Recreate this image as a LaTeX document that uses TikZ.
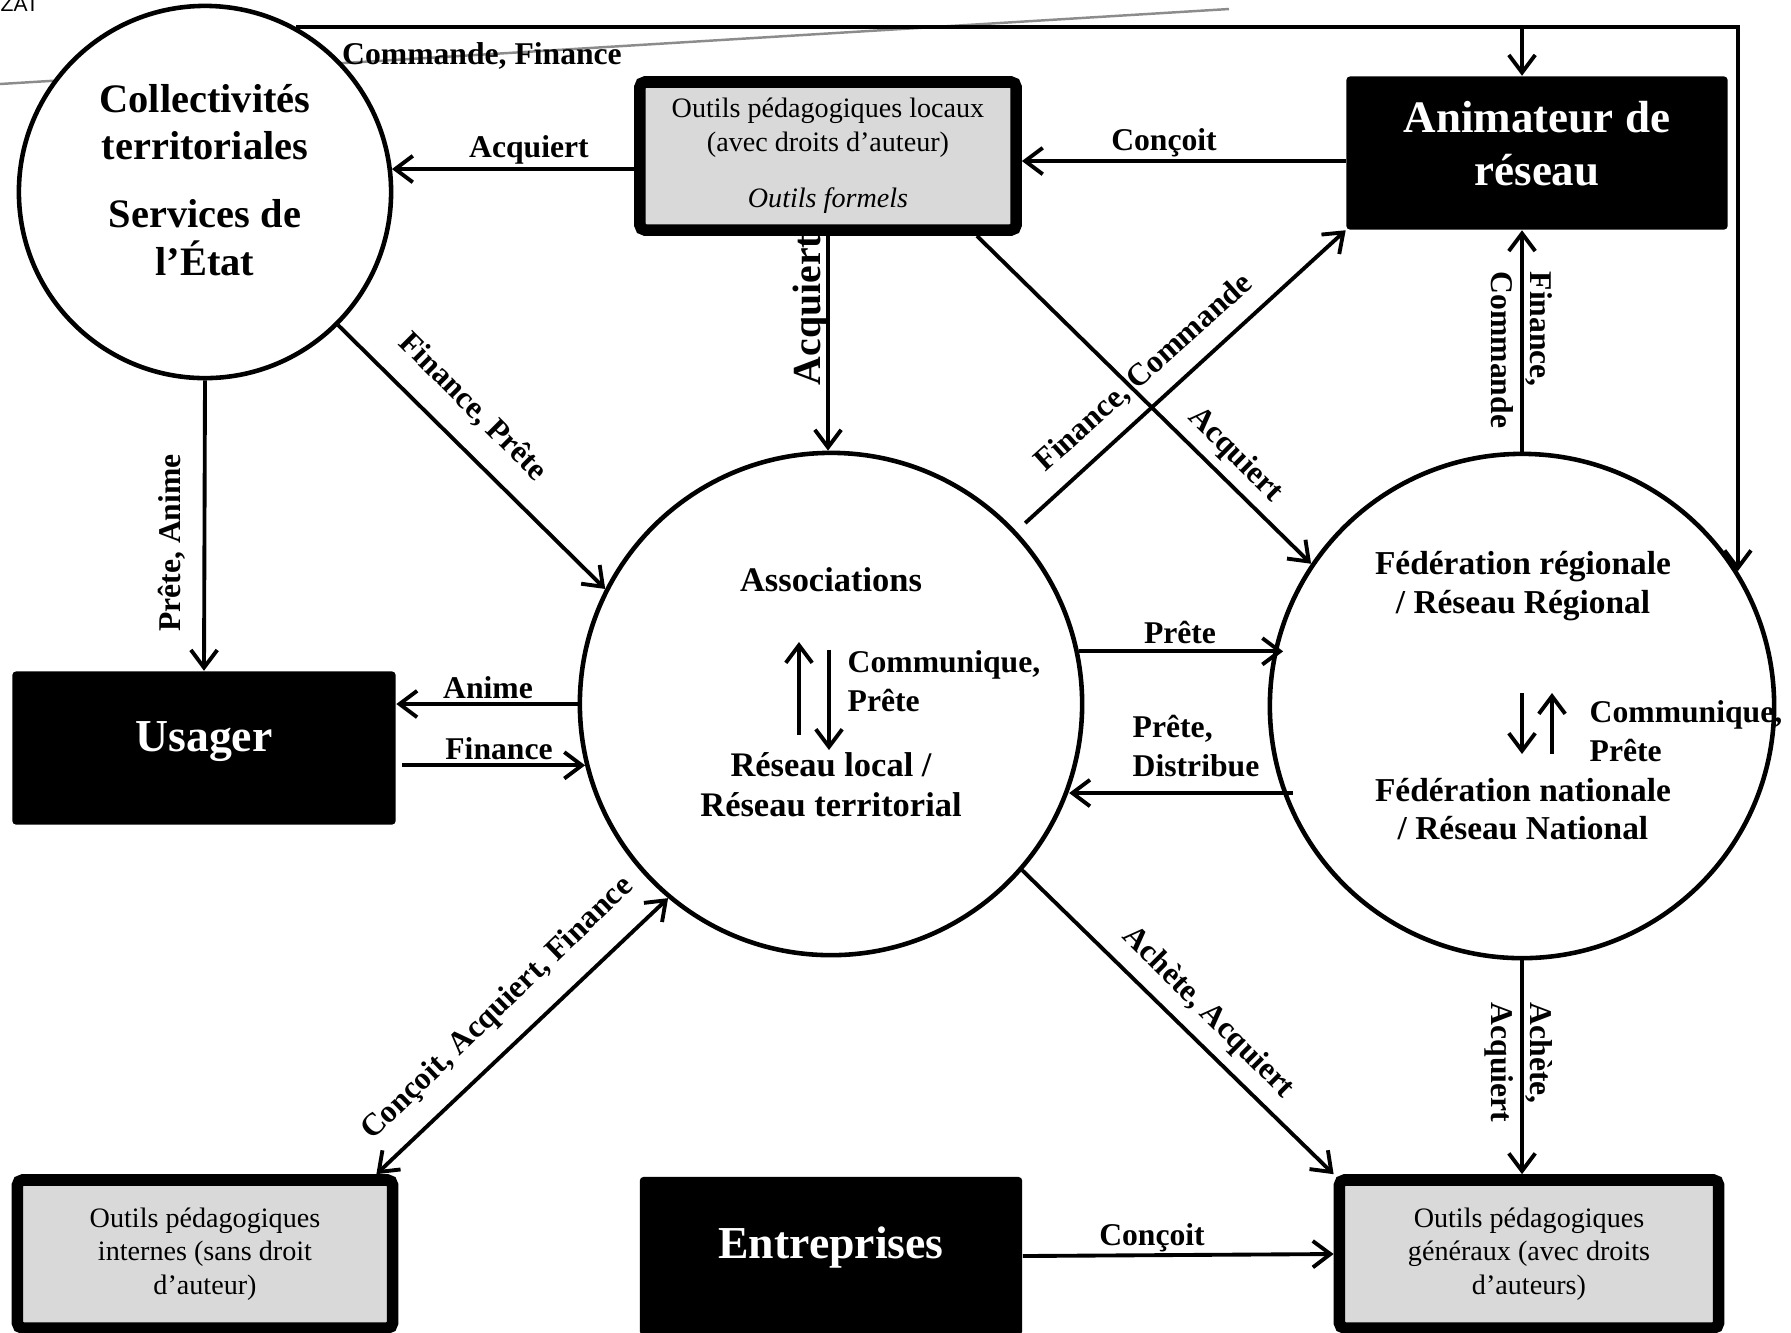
\documentclass[tikz,border=0pt]{standalone}
\usepackage{fontspec}
\setmainfont{Liberation Serif}
\setsansfont{Liberation Sans}
\usetikzlibrary{arrows.meta,calc}

\begin{document}
\begin{tikzpicture}[x=0.01cm,y=-0.01cm,
    actor/.style={draw,circle,line width=1.3pt,fill=white,inner sep=0pt},
    blackbox/.style={fill=black,rounded corners=1pt,inner sep=0pt},
    toolbox/.style={draw,line width=3.3pt,fill=black!15,rounded corners=1.5pt,inner sep=0pt,
                    align=center,font=\fontsize{8}{9.6}\selectfont},
    ctitle/.style={align=center,inner sep=0pt,font=\fontsize{9.8}{11.4}\selectfont\bfseries},
    wtitle/.style={text=white,align=center,inner sep=0pt,font=\fontsize{13}{15}\selectfont\bfseries},
    lbl/.style={align=left,inner sep=0pt,font=\fontsize{9}{11}\selectfont\bfseries},
    arr/.style={line width=1.1pt,-{Straight Barb[length=5pt,width=7.5pt]}},
    darr/.style={line width=1.1pt,{Straight Barb[length=5pt,width=7.5pt]}-{Straight Barb[length=5pt,width=7.5pt]}}]
  \useasboundingbox (0,0) rectangle (1791,1332);
  \fill[white] (0,0) rectangle (1791,1332);

  % bits of the page behind
  \node[anchor=base west,inner sep=0pt,font=\sffamily\fontsize{6}{7}\selectfont] (zat) at (0,11) {ZAT};
  \draw[black!45,line width=0.7pt] (0,84) -- (1229,9);

  % actors
  \node[actor,minimum size=3.72cm] (coll) at (205,192) {};
  \node[actor,minimum size=5.02cm] (assoc) at (831,704) {};
  \node[actor,minimum size=5.04cm] (fed) at (1522,706) {};
  \node[blackbox,minimum width=3.81cm,minimum height=1.53cm] (anim) at (1537,153) {};
  \node[blackbox,minimum width=3.83cm,minimum height=1.53cm] (usager) at (204,748) {};
  \node[blackbox,minimum width=3.82cm,minimum height=1.58cm] (entr) at (831,1256) {};

  % tools
  \node[toolbox,minimum width=3.76cm,minimum height=1.48cm] (locaux) at (828,156)
    {Outils pédagogiques locaux\\(avec droits d’auteur)\\[6.5pt]\textit{Outils formels}};
  \node[toolbox,minimum width=3.75cm,minimum height=1.48cm] (internes) at (205,1254)
    {Outils pédagogiques\\internes (sans droit\\d’auteur)};
  \node[toolbox,minimum width=3.79cm,minimum height=1.48cm] (gen) at (1529,1254)
    {Outils pédagogiques\\généraux (avec droits\\d’auteurs)};

  % titles
  \node[ctitle,font=\fontsize{11.5}{13.4}\selectfont\bfseries] (colltxt) at (205,180)
    {Collectivités\\territoriales\\[6pt]Services de\\l’État};
  \node[wtitle,font=\fontsize{12.8}{15.1}\selectfont\bfseries] (animtxt) at (1537,144) {Animateur de\\réseau};
  \node[wtitle] (usagertxt) at (204,742) {Usager};
  \node[wtitle] (entrtxt) at (831,1247) {Entreprises};
  \node[ctitle] (assoctop) at (831,580) {Associations};
  \node[ctitle] (assocbot) at (831,785) {Réseau local /\\Réseau territorial};
  \node[ctitle,font=\fontsize{9.5}{11}\selectfont\bfseries] (fedtop) at (1523,586) {Fédération régionale\\/ Réseau Régional};
  \node[ctitle,font=\fontsize{9.5}{11}\selectfont\bfseries] (fedbot) at (1523,809) {Fédération nationale\\/ Réseau National};
  \node[lbl,anchor=west] (assocrel) at (847,681) {Communique,\\Prête};
  \node[lbl,anchor=west] (fedrel) at (1589,731) {Communique,\\Prête};

  % flows
  \draw[arr] (coll.61) -| (fed.32);
  \draw[arr] (fed.north |- coll.61) -- (fed.north |- anim.north);
  \draw[arr] (locaux.west |- coll.7) -- (coll.7);
  \draw[arr] ([yshift=-0.08cm]anim.west) -- ([yshift=-0.08cm]anim.west -| locaux.east);
  \draw[arr] (locaux.south) -- (locaux.south |- assoc.north);
  \draw[arr] ([xshift=-0.45cm]locaux.south east) -- (fed.146);
  \draw[arr,shorten <=0.12cm] (assoc.43) -- (anim.south west);
  \draw[arr] (coll.-45) -- (assoc.153);
  \draw[arr] (coll.south) -- (usager.north);
  \draw[arr] (assoc.west) -- (assoc.west -| usager.east);
  \draw[arr,shorten <=0.06cm] (usager.east |- assoc.194) -- (assoc.194);
  \draw[arr,shorten >=-0.1cm] (assoc.12) -- (assoc.12 -| fed.168);
  \draw[arr] ([xshift=0.1cm]fed.200) -- (fed.200 -| assoc.-20);
  \draw[arr] (fed.north) -- (fed.north |- anim.south);
  \draw[arr] (fed.south) -- (fed.south |- gen.north);
  \draw[arr] (assoc.-41) -- (gen.north west);
  \draw[darr] (assoc.-130) -- ([xshift=-0.22cm]internes.north east);
  \draw[arr] (entr.east) -- (gen.west);
  \draw[arr] ($(assoc)+(-32,31)$) -- ($(assoc)+(-32,-62)$);
  \draw[arr] ($(assoc)+(-2,-54)$) -- ($(assoc)+(-2,46)$);
  \draw[arr] ($(fed)+(0,-13)$) -- ($(fed)+(0,48)$);
  \draw[arr] ($(fed)+(30,48)$) -- ($(fed)+(30,-13)$);

  % flow labels
  \node[lbl] (l1) at (482,56) {Commande, Finance};
  \node[lbl] (l2) at (529,150) {Acquiert};
  \node[lbl] (l3) at (1164,143) {Conçoit};
  \node[lbl,font=\fontsize{11.3}{13}\selectfont\bfseries,rotate=90] (l4) at (811,310) {Acquiert};
  \node[lbl,rotate=90] (l5) at (172,543) {Prête, Anime};
  \node[lbl,rotate=-45] (l6) at (473,407) {Finance, Prête};
  \node[lbl,rotate=42] (l7) at (1144,373) {Finance, Commande};
  \node[lbl,rotate=-44.6] (l8) at (1235,455) {Acquiert};
  \node[lbl,rotate=-90,anchor=north west] (l9) at (1553,271) {Finance,\\Commande};
  \node[lbl] (l10) at (1180,632) {Prête};
  \node[lbl,anchor=west] (l11) at (1132,746) {Prête,\\Distribue};
  \node[lbl] (l12) at (488,688) {Anime};
  \node[lbl] (l13) at (499,749) {Finance};
  \node[lbl,rotate=44] (l14) at (498,1009) {Conçoit, Acquiert, Finance};
  \node[lbl,rotate=-45] (l15) at (1208,1013) {Achète, Acquiert};
  \node[lbl,rotate=-90,anchor=north west] (l16) at (1553,1002) {Achète,\\Acquiert};
  \node[lbl] (l17) at (1152,1238) {Conçoit};
\end{tikzpicture}
\end{document}
